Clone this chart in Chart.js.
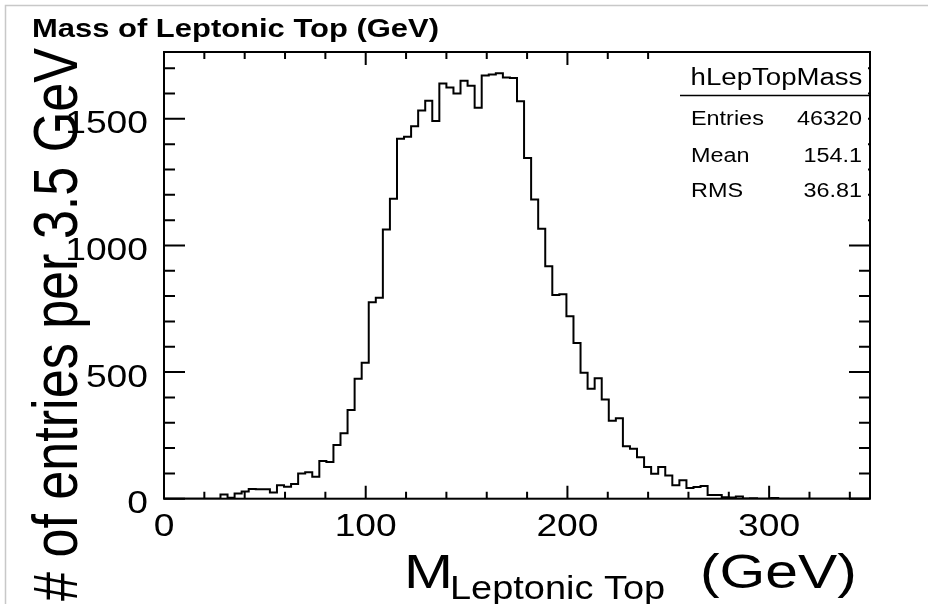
<!DOCTYPE html>
<html><head><meta charset="utf-8">
<script src="https://cdn.jsdelivr.net/npm/chart.js@4.4.0/dist/chart.umd.min.js"></script>
<style>html,body{margin:0;padding:0;background:#fff;overflow:hidden}#wrap{width:928px;height:604px;position:relative}</style>
</head><body><div id="wrap"><canvas id="c" width="928" height="604"></canvas></div>
<script>
// ---- data ----
const binWidth = 3.5;
const xMin = 0, xMax = 350;
const yMin = 0, yMax = 1764;
const binCounts = [
  0,0,0,0,0,0,0,0,17,4,
  21,28,38,37,37,24,53,47,58,100,
  104,87,149,145,212,258,350,474,537,776,
  794,1063,1184,1421,1429,1471,1533,1571,1492,1640,
  1624,1600,1650,1631,1544,1671,1675,1680,1663,1661,
  1570,1345,1182,1066,918,804,807,720,615,497,
  434,476,392,308,318,207,197,164,125,99,
  125,92,53,73,42,46,50,15,15,6,
  5,9,1,2,0,0,3,0,0,0,
  0,0,0,0,0,0,0,0,0,0
];
const xTickValues = [0,100,200,300];
const xTickLabels = ['0','100','200','300'];
const yTickValues = [0,500,1000,1500];
const yTickLabels = ['0','500','1000','1500'];
const xMinorStep = 20, xMajorStep = 100;
const yMinorStep = 100, yMajorStep = 500;
const titleText = 'Mass of Leptonic Top (GeV)';
const yTitleText = '# of entries per 3.5 GeV';
const xTitleMain = 'M', xTitleSub = 'Leptonic Top', xTitleUnit = '(GeV)';
const statsName = 'hLepTopMass';
const statsLabels = ['Entries','Mean','RMS'];
const statsValues = ['46320','154.1','36.81'];

// outline points: left and right edge of every bin
const outline = [];
binCounts.forEach((v,i)=>{
  outline.push({x: xMin + i*binWidth, y: v});
  outline.push({x: xMin + (i+1)*binWidth, y: v});
});

const FONT = '"Liberation Sans", Arial, Helvetica, sans-serif';
const SX = 1.2;

function txt(ctx, s, x, y, font, align, sx){
  ctx.save();
  ctx.font = font;
  ctx.textAlign = align || 'left';
  ctx.textBaseline = 'alphabetic';
  ctx.translate(x, y);
  ctx.scale(sx || SX, 1);
  ctx.fillText(s, 0, 0);
  ctx.restore();
}

const rootPlugin = {
  id: 'rootStyle',
  beforeDraw(chart){
    const ctx = chart.ctx;
    ctx.save();
    ctx.fillStyle = '#fff';
    ctx.fillRect(0,0,chart.width,chart.height);
    ctx.strokeStyle = '#c8c8c8';
    ctx.lineWidth = 1.5;
    ctx.beginPath();
    ctx.moveTo(5.5, 604); ctx.lineTo(5.5, 5.5); ctx.lineTo(928, 5.5);
    ctx.stroke();
    ctx.restore();
  },
  afterDatasetsDraw(chart){
    const ctx = chart.ctx;
    const xs = chart.scales.x, ys = chart.scales.y;
    const a = chart.chartArea;
    ctx.save();
    ctx.strokeStyle = '#000';
    ctx.fillStyle = '#000';
    ctx.lineWidth = 2;
    ctx.beginPath();
    // x ticks (bottom & top)
    for (let v = xMin; v <= xMax + 1e-9; v += xMinorStep){
      const px = xs.getPixelForValue(v);
      const major = Math.abs(v % xMajorStep) < 1e-9;
      const len = major ? 13 : 7;
      ctx.moveTo(px, a.bottom); ctx.lineTo(px, a.bottom - len);
      ctx.moveTo(px, a.top); ctx.lineTo(px, a.top + len);
    }
    // y ticks (left & right)
    for (let v = yMin; v <= yMax + 1e-9; v += yMinorStep){
      const py = ys.getPixelForValue(v);
      const major = Math.abs(v % yMajorStep) < 1e-9;
      const len = major ? 21 : 11;
      ctx.moveTo(a.left, py); ctx.lineTo(a.left + len, py);
      ctx.moveTo(a.right, py); ctx.lineTo(a.right - len, py);
    }
    ctx.stroke();

    // stats box
    ctx.fillStyle = '#fff';
    ctx.fillRect(678, a.top + 1, a.right - 678 - 2, 176);
    ctx.fillStyle = '#000';
    ctx.lineWidth = 1.5;
    ctx.beginPath();
    ctx.moveTo(680, 95.5); ctx.lineTo(a.right, 95.5);
    ctx.stroke();
    txt(ctx, statsName, 776.5, 85, '23px ' + FONT, 'center');
    const rows = [125, 161.5, 196.5];
    statsLabels.forEach((l,i)=>{
      txt(ctx, l, 691, rows[i], '19.5px ' + FONT, 'left');
      txt(ctx, statsValues[i], 862, rows[i], '19.5px ' + FONT, 'right');
    });

    // frame
    ctx.lineWidth = 2;
    ctx.strokeRect(a.left, a.top, a.right - a.left, a.bottom - a.top);

    // tick labels
    xTickValues.forEach((v,i)=>{
      txt(ctx, xTickLabels[i], xs.getPixelForValue(v), 536, '31px ' + FONT, 'center');
    });
    yTickValues.forEach((v,i)=>{
      txt(ctx, yTickLabels[i], 148, ys.getPixelForValue(v) + 14.5, '31px ' + FONT, 'right');
    });

    // title
    ctx.font = 'bold 25.5px ' + FONT;
    const tw = ctx.measureText(titleText).width;
    txt(ctx, titleText, 32, 37, 'bold 25.5px ' + FONT, 'left', 407 / tw);

    // x title
    txt(ctx, xTitleMain, 404, 588, '49px ' + FONT, 'left');
    txt(ctx, xTitleSub, 450, 599, '33px ' + FONT, 'left', 1.15);
    txt(ctx, xTitleUnit, 700, 588, '49px ' + FONT, 'left');

    // y title (rotated)
    ctx.save();
    ctx.font = '52px ' + FONT;
    const yl = ctx.measureText(yTitleText).width;
    ctx.translate(77, 601);
    ctx.rotate(-Math.PI/2);
    ctx.scale(553 / yl, SX);
    ctx.textAlign = 'left';
    ctx.textBaseline = 'alphabetic';
    ctx.fillText(yTitleText, 0, 0);
    ctx.restore();

    ctx.restore();
  }
};

new Chart(document.getElementById('c'), {
  type: 'line',
  data: {
    datasets: [{
      data: outline,
      borderColor: '#000',
      borderWidth: 2,
      pointRadius: 0,
      fill: false,
      tension: 0
    }]
  },
  options: {
    responsive: false,
    animation: false,
    events: [],
    layout: { padding: { left: 164, right: 58, top: 52, bottom: 105.3 } },
    plugins: { legend: { display: false }, tooltip: { enabled: false }, title: { display: false } },
    scales: {
      x: { type: 'linear', min: xMin, max: xMax, display: false },
      y: { type: 'linear', min: yMin, max: yMax, display: false }
    }
  },
  plugins: [rootPlugin]
});
</script>
</body></html>
